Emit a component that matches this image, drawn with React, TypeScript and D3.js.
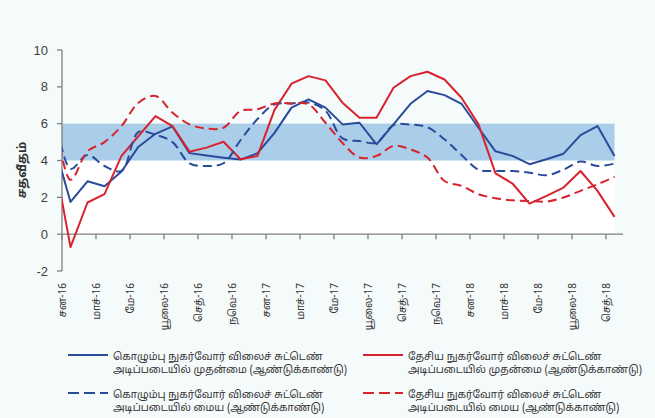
import { useEffect, useRef } from 'react';
import * as d3 from 'd3';

// month positions: 0 = start of Jan-16; data points sit mid-month, first one is Dec-15
const tickLabels = [
  'சன-16', 'மாச்-16', 'மே-16', 'யூலை-16', 'செத்-16', 'நவெ-16',
  'சன-17', 'மாச்-17', 'மே-17', 'யூலை-17', 'செத்-17', 'நவெ-17',
  'சன-18', 'மாச்-18', 'மே-18', 'யூலை-18', 'செத்-18',
];

const ccpiHeadline = [
  5.0, 1.75, 2.87, 2.6, 3.4, 4.75, 5.45, 5.85, 4.4, 4.27, 4.15, 4.05, 4.4, 5.5,
  6.87, 7.32, 6.87, 5.96, 6.05, 4.88, 5.96, 7.08, 7.77, 7.55, 7.08, 5.78, 4.5,
  4.25, 3.8, 4.07, 4.37, 5.38, 5.87, 4.25,
];
const ncpiHeadline = [
  4.3, -0.7, 1.72, 2.17, 4.25, 5.33, 6.41, 5.87, 4.48, 4.7, 5.02, 4.07, 4.25, 6.75,
  8.17, 8.58, 8.35, 7.14, 6.32, 6.32, 7.95, 8.58, 8.82, 8.4, 7.41, 5.96, 3.3,
  2.75, 1.66, 2.08, 2.53, 3.43, 2.35, 0.94,
];
const ccpiCore = [
  7.2, 3.55, 4.3, 3.7, 3.43, 5.55, 5.4, 5.0, 3.85, 3.7, 3.85, 5.1, 6.25, 7.05,
  7.1, 7.15, 6.7, 5.2, 5.06, 4.97, 5.92, 5.95, 5.8, 5.15, 4.3, 3.5, 3.43,
  3.43, 3.34, 3.2, 3.5, 3.94, 3.7, 3.83,
];
const ncpiCore = [
  7.0, 2.95, 4.5, 5.0, 5.87, 7.14, 7.5, 6.6, 5.96, 5.74, 5.78, 6.69, 6.78, 7.1,
  7.1, 7.05, 6.05, 4.95, 4.16, 4.25, 4.79, 4.6, 4.16, 2.89, 2.62, 2.17, 1.95,
  1.84, 1.8, 1.77, 1.99, 2.35, 2.71, 3.11,
];

const targetBand = [4, 6];
const yTicks = [-2, 0, 2, 4, 6, 8, 10];

const legendItems = [
  { label: ['கொழும்பு நுகர்வோர் விலைச் சுட்டெண்', 'அடிப்படையில் முதன்மை (ஆண்டுக்காண்டு)'], color: '#2a4b9b', dash: null, values: ccpiHeadline },
  { label: ['தேசிய நுகர்வோர் விலைச் சுட்டெண்', 'அடிப்படையில் முதன்மை (ஆண்டுக்காண்டு)'], color: '#d8232f', dash: null, values: ncpiHeadline },
  { label: ['கொழும்பு நுகர்வோர் விலைச் சுட்டெண்', 'அடிப்படையில் மைய (ஆண்டுக்காண்டு)'], color: '#2a4b9b', dash: '9,5', values: ccpiCore },
  { label: ['தேசிய நுகர்வோர் விலைச் சுட்டெண்', 'அடிப்படையில் மைய (ஆண்டுக்காண்டு)'], color: '#d8232f', dash: '9,5', values: ncpiCore },
];

const tamilFont = '"Noto Sans Tamil", "Latha", "Noto Sans", sans-serif';
const numFont = '"Liberation Sans", Arial, sans-serif';

const App = () => {
  const ref = useRef(null);

  useEffect(() => {
    if (!ref.current) return;
    const width = 655, height = 418;
    d3.select(ref.current).selectAll('svg').remove();

    const svg = d3.select(ref.current)
      .append('svg')
        .attr('width', width)
        .attr('height', height)
        .style('position', 'absolute')
        .style('left', '0px')
        .style('top', '0px')
        .style('background', '#f5fafa');

    const x = d3.scaleLinear().domain([0, 33]).range([62, 623]);
    const y = d3.scaleLinear().domain([-2, 10]).range([271, 50]);
    const monthPos = (i) => i - 0.5; // index 0 is Dec-15

    svg.append('defs').append('clipPath').attr('id', 'plotclip')
      .append('rect')
        .attr('x', x(0)).attr('y', 0)
        .attr('width', x(33) - x(0)).attr('height', height);

    // white lower part + blue target band
    const bandEnd = monthPos(ccpiHeadline.length - 1);
    svg.append('rect')
      .attr('x', x(0)).attr('y', y(targetBand[0]))
      .attr('width', x(bandEnd) - x(0)).attr('height', y(0) - y(targetBand[0]))
      .attr('fill', '#ffffff');
    svg.append('rect')
      .attr('x', x(0)).attr('y', y(targetBand[1]))
      .attr('width', x(bandEnd) - x(0)).attr('height', y(targetBand[0]) - y(targetBand[1]))
      .attr('fill', '#aacdea');

    // y axis
    const axisColor = '#7f7f7f';
    svg.append('line')
      .attr('x1', x(0)).attr('x2', x(0)).attr('y1', y(-2)).attr('y2', y(10))
      .attr('stroke', axisColor).attr('stroke-width', 1.3);
    yTicks.forEach(t => {
      svg.append('line')
        .attr('x1', x(0) - 5).attr('x2', x(0)).attr('y1', y(t)).attr('y2', y(t))
        .attr('stroke', axisColor).attr('stroke-width', 1.3);
      svg.append('text')
        .attr('x', 48).attr('y', y(t)).attr('dy', '0.35em')
        .attr('text-anchor', 'end')
        .style('font-family', numFont).style('font-size', '13px')
        .attr('fill', '#3f3f3f')
        .text(t);
    });

    // x axis at zero
    svg.append('line')
      .attr('x1', x(0)).attr('x2', x(33)).attr('y1', y(0)).attr('y2', y(0))
      .attr('stroke', axisColor).attr('stroke-width', 1.3);
    tickLabels.forEach((lab, j) => {
      const tx = x(j * 2);
      svg.append('line')
        .attr('x1', tx).attr('x2', tx).attr('y1', y(0)).attr('y2', y(0) + 5)
        .attr('stroke', axisColor).attr('stroke-width', 1.3);
      svg.append('text')
        .attr('transform', `translate(${tx},283) rotate(-90)`)
        .attr('dy', '0.35em')
        .attr('text-anchor', 'end')
        .style('font-family', tamilFont).style('font-size', '10px')
        .attr('fill', '#333')
        .text(lab);
    });

    // y axis title
    svg.append('text')
      .attr('transform', 'translate(22,170) rotate(-90)')
      .attr('dy', '0.35em')
      .attr('text-anchor', 'middle')
      .style('font-family', tamilFont).style('font-size', '12px').style('font-weight', 'bold')
      .attr('fill', '#333')
      .text('சதவீதம்');

    // lines
    const plot = svg.append('g').attr('clip-path', 'url(#plotclip)');
    legendItems.forEach(s => {
      const line = d3.line()
        .x((d, i) => x(monthPos(i)))
        .y(d => y(d))
        .curve(s.dash ? d3.curveCatmullRom.alpha(0.5) : d3.curveLinear);
      plot.append('path')
        .datum(s.values)
        .attr('fill', 'none')
        .attr('stroke', s.color)
        .attr('stroke-width', 2)
        .attr('stroke-dasharray', s.dash)
        .attr('stroke-linejoin', 'round')
        .attr('d', line);
    });

    // legend
    const legPos = [[68, 355], [363, 355], [68, 393], [363, 393]];
    legendItems.forEach((s, i) => {
      const [lx, ly] = legPos[i];
      svg.append('line')
        .attr('x1', lx).attr('x2', lx + 40).attr('y1', ly).attr('y2', ly)
        .attr('stroke', s.color).attr('stroke-width', 2)
        .attr('stroke-dasharray', s.dash ? '11,5' : null);
      s.label.forEach((t, k) => {
        svg.append('text')
          .attr('x', lx + 45).attr('y', ly + 1 + k * 13).attr('dy', '0.35em')
          .style('font-family', tamilFont).style('font-size', '10.3px')
          .attr('fill', '#333')
          .text(t);
      });
    });
  }, []);

  return (
    <div ref={ref} />
  );
};

export default App;
